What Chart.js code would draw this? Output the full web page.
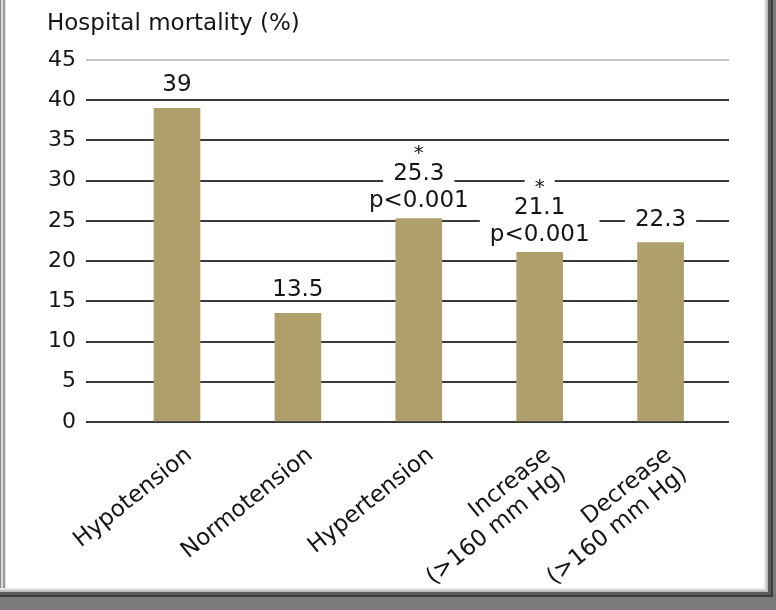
<!DOCTYPE html>
<html><head><meta charset="utf-8">
<script src="https://cdn.jsdelivr.net/npm/chart.js@4.4.1/dist/chart.umd.min.js"></script>
<style>
html,body{margin:0;padding:0;width:776px;height:610px;overflow:hidden;background:#7a7a7a;}
#frame{position:absolute;left:0;top:0;width:773px;height:597px;background:#fff;
box-shadow: inset 0 -2px 0 #3c3c3c, inset -2px 0 0 #3c3c3c, inset 0 -5px 0 #5a5a5a, inset -5px 0 0 #5a5a5a,
 inset 0 -7px 0 #bdbdbd, inset -7px 0 0 #bdbdbd, inset 0 -9px 0 #e6e6e6, inset -9px 0 0 #e6e6e6,
 inset 1px 0 0 #8a8a8a, inset 3px 0 0 #dcdcdc, inset 5px 0 0 #9c9c9c, inset 6px 0 0 #e8e8e8;}
#c{position:absolute;left:0;top:0;}
</style></head>
<body>
<div id="frame"></div>
<canvas id="c" width="776" height="610"></canvas>
<script>
const categories = [['Hypotension'], ['Normotension'], ['Hypertension'], ['Increase', '(>160 mm Hg)'], ['Decrease', '(>160 mm Hg)']];
const mortality = [39, 13.5, 25.3, 21.1, 22.3];
const valueLabels = ['39', '13.5', '25.3', '21.1', '22.3'];
const pLabels = ['', '', 'p<0.001', 'p<0.001', ''];
const significant = [false, false, true, true, false];
const yTitle = 'Hospital mortality (%)';
const yMin = 0, yMax = 45, yStep = 5;

const FAMILY = '"DejaVu Sans", "Liberation Sans", sans-serif';
const TEXT = '#151515';

const annot = {
  id: 'annot',
  afterDatasetsDraw(chart) {
    const ctx = chart.ctx;
    const meta = chart.getDatasetMeta(0);
    ctx.save();
    function boxed(text, x, baseline, size, padX, top, bottom) {
      ctx.font = size + 'px ' + FAMILY;
      const w = ctx.measureText(text).width;
      ctx.fillStyle = '#fff';
      ctx.fillRect(x - w / 2 - padX, baseline - top, w + 2 * padX, top + bottom);
      ctx.fillStyle = TEXT;
      ctx.textAlign = 'center';
      ctx.textBaseline = 'alphabetic';
      ctx.fillText(text, x, baseline);
    }
    meta.data.forEach((bar, i) => {
      const x = bar.x, top = bar.y;
      if (pLabels[i]) {
        boxed(pLabels[i], x, top - 11, 23, 10, 22, 5);
        boxed(valueLabels[i], x, top - 38, 23, 10, 22, 5);
      } else {
        boxed(valueLabels[i], x, top - 17, 23, 10, 22, 3);
      }
      if (significant[i]) boxed('*', x, top - 59, 20, 10, 18, -3);
    });
    ctx.restore();
  },
  afterDraw(chart) {
    const ctx = chart.ctx;
    const xs = chart.scales.x, ys = chart.scales.y;
    ctx.save();
    ctx.fillStyle = TEXT;
    ctx.font = '23px ' + FAMILY;
    ctx.textAlign = 'left';
    ctx.textBaseline = 'alphabetic';
    ctx.fillText(yTitle, 47, 30);
    const a = 39 * Math.PI / 180;
    const L = 25;
    const y0 = ys.getPixelForValue(0);
    categories.forEach((lines, i) => {
      const cx = xs.getPixelForValue(i);
      const ax = cx + (lines.length > 1 ? 12 : 16), ay = y0 + 35;
      lines.forEach((t, k) => {
        ctx.save();
        ctx.translate(ax + k * L * Math.sin(a), ay + k * L * Math.cos(a));
        ctx.rotate(-a);
        ctx.textAlign = 'right';
        ctx.fillText(t, 0, 0);
        ctx.restore();
      });
    });
    ctx.restore();
  }
};

new Chart(document.getElementById('c'), {
  type: 'bar',
  data: {
    datasets: [{
      data: mortality.map((v, i) => ({ x: i, y: v })),
      backgroundColor: '#ae9f6b',
      borderWidth: 0,
      barThickness: 46
    }]
  },
  options: {
    responsive: false,
    devicePixelRatio: 1,
    animation: false,
    layout: { padding: { left: 0, right: 47, top: 60, bottom: 188 } },
    plugins: { legend: { display: false }, tooltip: { enabled: false }, title: { display: false } },
    scales: {
      x: { type: 'linear', display: false, offset: false, min: -0.7527, max: 4.566, grid: { offset: false } },
      y: {
        min: yMin, max: yMax,
        afterFit(scale) { scale.width = 86; },
        border: { display: false },
        grid: {
          drawTicks: false,
          lineWidth: 2,
          color: c => (c.tick && c.tick.value === yMax) ? '#c6c6c6' : '#3a3a3a'
        },
        ticks: { stepSize: yStep, padding: 10, color: TEXT, font: { family: FAMILY, size: 22 } }
      }
    }
  },
  plugins: [annot]
});
</script>
</body></html>
